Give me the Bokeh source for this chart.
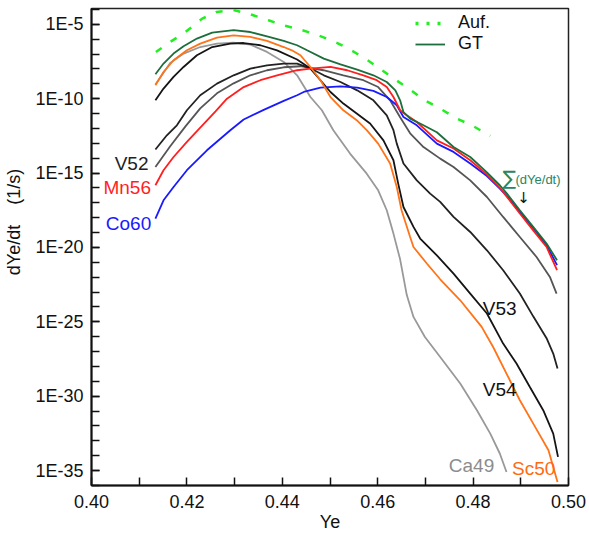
import numpy as np
from bokeh.plotting import figure
from bokeh.models import (Range1d, FixedTicker, CustomJSTickFormatter, Label,
                          Legend, LegendItem)
from bokeh.embed import file_html
from bokeh.resources import INLINE

FONT = "Liberation Sans"

# ---- data (Ye, log10 of dYe/dt) ----
auf_ye = [0.4135, 0.4165, 0.4197, 0.4232, 0.4263, 0.4297, 0.4333, 0.4371, 0.4402, 0.4438, 0.4475,
          0.4511, 0.4542, 0.4577, 0.4609, 0.4637, 0.4668, 0.4696, 0.4731, 0.4766, 0.4797, 0.4836]
auf_lg = [-6.86, -6.19, -5.52, -4.62, -4.17, -4.03, -4.33, -4.73, -5.07, -5.36, -5.74,
          -6.19, -6.70, -7.37, -8.09, -8.72, -9.39, -10.06, -10.67, -11.34, -11.79, -12.50]

gt_ye = [0.4134, 0.4151, 0.4172, 0.4193, 0.4221, 0.4253, 0.4298, 0.4333, 0.4368, 0.4403, 0.4431,
         0.4452, 0.4487, 0.4522, 0.4557, 0.4591, 0.4619, 0.4637, 0.4647, 0.4654, 0.4668, 0.4696,
         0.4724, 0.4759, 0.4794, 0.4829, 0.4856, 0.4871, 0.4898, 0.4926, 0.4954, 0.4976]
gt_lg = [-8.36, -7.64, -6.97, -6.48, -5.96, -5.56, -5.40, -5.52, -5.81, -6.12, -6.41,
         -6.75, -7.31, -7.69, -8.05, -8.43, -8.88, -9.44, -10.11, -10.90, -11.34, -11.79,
         -12.26, -13.25, -13.92, -14.95, -15.82, -16.38, -17.50, -18.62, -19.74, -20.86]

sc50_ye = [0.4134, 0.4151, 0.4172, 0.4200, 0.4228, 0.4263, 0.4298, 0.4333, 0.4368, 0.4403, 0.4420,
           0.4438, 0.4459, 0.4480, 0.4501, 0.4528, 0.4556, 0.4577, 0.4601, 0.4626, 0.4640, 0.4650,
           0.4668, 0.4675, 0.4703, 0.4731, 0.4773, 0.4818, 0.4842, 0.4870, 0.4898, 0.4930, 0.4958,
           0.4968, 0.4977]
sc50_lg = [-9.10, -8.21, -7.42, -6.75, -6.30, -5.90, -5.74, -5.85, -6.12, -6.53, -6.75,
           -7.08, -7.87, -8.76, -9.89, -10.78, -11.45, -12.12, -13.02, -14.36, -15.94, -17.50,
           -19.30, -19.97, -21.08, -22.14, -23.55, -25.34, -26.69, -28.48, -30.27, -32.06, -33.63,
           -34.75, -35.76]

ca49_ye = [0.4134, 0.4165, 0.4193, 0.4228, 0.4263, 0.4298, 0.4333, 0.4368, 0.4403, 0.4431, 0.4459,
           0.4483, 0.4507, 0.4542, 0.4577, 0.4601, 0.4619, 0.4633, 0.4647, 0.4661, 0.4675, 0.4699,
           0.4731, 0.4773, 0.4808, 0.4836, 0.4856, 0.4870]
ca49_lg = [-9.05, -7.60, -6.97, -6.53, -6.30, -6.23, -6.37, -6.86, -7.53, -8.43, -9.89,
           -10.78, -12.12, -13.69, -15.04, -16.16, -17.50, -19.07, -20.80, -23.20, -24.67, -26.02,
           -27.36, -29.15, -30.94, -32.51, -33.85, -35.09]

v54_ye = [0.4134, 0.4151, 0.4172, 0.4193, 0.4221, 0.4253, 0.4291, 0.4319, 0.4354, 0.4389, 0.4431,
          0.4459, 0.4480, 0.4501, 0.4528, 0.4556, 0.4584, 0.4612, 0.4633, 0.4643, 0.4654, 0.4675,
          0.4689, 0.4724, 0.4759, 0.4794, 0.4829, 0.4863, 0.4891, 0.4919, 0.4947, 0.4968, 0.4978]
v54_lg = [-10.11, -9.32, -8.54, -7.87, -7.08, -6.53, -6.30, -6.26, -6.41, -6.75, -7.37,
          -7.98, -8.76, -9.55, -10.33, -11.00, -11.67, -12.80, -14.14, -15.71, -17.28, -18.62,
          -19.40, -20.53, -21.76, -23.10, -24.44, -26.46, -27.80, -29.38, -30.94, -32.51, -34.08]

v53_ye = [0.4134, 0.4158, 0.4179, 0.4200, 0.4228, 0.4263, 0.4298, 0.4333, 0.4368, 0.4403, 0.4431,
          0.4459, 0.4487, 0.4522, 0.4557, 0.4591, 0.4619, 0.4633, 0.4640, 0.4654, 0.4682, 0.4710,
          0.4731, 0.4759, 0.4794, 0.4829, 0.4863, 0.4898, 0.4926, 0.4954, 0.4968, 0.4977]
v53_lg = [-13.42, -12.46, -11.79, -10.78, -9.77, -8.99, -8.43, -7.98, -7.76, -7.64, -7.64,
          -7.96, -8.43, -8.88, -9.44, -10.11, -11.12, -12.12, -13.02, -14.36, -15.49, -16.38,
          -16.94, -17.95, -18.96, -20.19, -21.53, -23.10, -24.63, -26.10, -27.13, -28.14]

v52_ye = [0.4134, 0.4165, 0.4197, 0.4228, 0.4263, 0.4298, 0.4333, 0.4368, 0.4403, 0.4438, 0.4486,
          0.4528, 0.4570, 0.4601, 0.4626, 0.4647, 0.4668, 0.4696, 0.4731, 0.4759, 0.4794, 0.4829,
          0.4863, 0.4898, 0.4933, 0.4961, 0.4975]
v52_lg = [-14.59, -13.20, -11.86, -10.65, -9.64, -8.97, -8.43, -8.09, -7.89, -7.82, -8.09,
          -8.43, -8.76, -9.22, -10.11, -11.25, -12.33, -13.25, -14.03, -14.59, -15.49, -16.61,
          -17.95, -19.30, -20.64, -21.98, -23.10]

mn56_ye = [0.4134, 0.4151, 0.4172, 0.4200, 0.4228, 0.4260, 0.4284, 0.4319, 0.4354, 0.4389, 0.4431,
           0.4459, 0.4501, 0.4536, 0.4570, 0.4598, 0.4619, 0.4633, 0.4647, 0.4661, 0.4682, 0.4724,
           0.4759, 0.4794, 0.4829, 0.4856, 0.4871, 0.4898, 0.4926, 0.4954, 0.4976]
mn56_lg = [-15.82, -14.81, -13.92, -12.91, -11.95, -10.85, -10.00, -9.22, -8.76, -8.43, -8.09,
           -7.98, -7.87, -8.09, -8.43, -8.76, -9.22, -9.89, -10.78, -11.12, -11.57, -12.80,
           -13.35, -14.14, -15.10, -15.99, -16.61, -17.72, -18.85, -19.97, -21.53]

co60_ye = [0.4134, 0.4151, 0.4172, 0.4200, 0.4242, 0.4291, 0.4319, 0.4361, 0.4403, 0.4431, 0.4445,
           0.4480, 0.4522, 0.4557, 0.4591, 0.4619, 0.4640, 0.4654, 0.4682, 0.4724, 0.4759, 0.4794,
           0.4829, 0.4856, 0.4871, 0.4898, 0.4926, 0.4954, 0.4976]
co60_lg = [-18.06, -16.83, -15.94, -14.81, -13.47, -12.12, -11.40, -10.75, -10.15, -9.77, -9.55,
           -9.26, -9.17, -9.26, -9.48, -9.89, -10.44, -11.23, -11.79, -13.02, -13.58, -14.36,
           -15.20, -16.04, -16.55, -17.63, -18.71, -19.85, -21.19]

x_ticks = [0.40, 0.42, 0.44, 0.46, 0.48, 0.50]
x_minor = [0.41, 0.43, 0.45, 0.47, 0.49]
y_ticks = [1e-35, 1e-30, 1e-25, 1e-20, 1e-15, 1e-10, 1e-5]
y_minor = [10.0 ** k for k in range(-36, -3)]
X_LO, X_HI = 0.40, 0.50
Y_LO, Y_HI = 1e-36, 10 ** -3.94

p = figure(width=586, height=537, output_backend="svg", toolbar_location=None,
           x_range=Range1d(X_LO, X_HI), y_range=Range1d(Y_LO, Y_HI), y_axis_type="log")
p.min_border = 0
p.min_border_left = 91
p.min_border_right = 18
p.min_border_top = 8
p.min_border_bottom = 52
p.grid.visible = False
p.background_fill_color = "white"
p.outline_line_color = "#222222"
p.outline_line_width = 1.5

for ax in (p.xaxis[0], p.yaxis[0]):
    ax.axis_line_color = "#111111"
    ax.axis_line_width = 2
    ax.major_tick_in = 8
    ax.major_tick_out = 0
    ax.minor_tick_in = 8
    ax.minor_tick_out = 0
    ax.major_tick_line_width = 1.5
    ax.minor_tick_line_width = 1.5
    ax.major_tick_line_color = "#111111"
    ax.minor_tick_line_color = "#111111"
    ax.major_label_text_font = FONT
    ax.major_label_text_font_size = "18px"
    ax.major_label_text_color = "#111111"
    ax.axis_label_text_font = FONT
    ax.axis_label_text_font_size = "18px"
    ax.axis_label_text_font_style = "normal"
    ax.axis_label_text_color = "#111111"

p.xaxis[0].ticker = FixedTicker(ticks=x_ticks, minor_ticks=x_minor)
p.xaxis[0].formatter = CustomJSTickFormatter(code="return tick.toFixed(2);")
p.xaxis[0].major_label_standoff = 9
p.xaxis[0].axis_label = "Ye"
p.xaxis[0].axis_label_standoff = 1
p.yaxis[0].ticker = FixedTicker(ticks=y_ticks, minor_ticks=y_minor)
p.yaxis[0].formatter = CustomJSTickFormatter(code='return "1E" + Math.round(Math.log10(tick));')
p.yaxis[0].major_label_standoff = 8
p.yaxis[0].axis_label = "\u00a0" * 10 + "dYe/dt\u00a0\u00a0\u00a0\u00a0(1/s)"
p.yaxis[0].axis_label_standoff = 8


def curve(xs, lg, color, width=1.8, dash="solid"):
    return p.line(xs, 10.0 ** np.array(lg), line_color=color, line_width=width, line_dash=dash)


curve(auf_ye, auf_lg, "#22ee22", width=2.5, dash="7 11")
curve(ca49_ye, ca49_lg, "#999999")
curve(v52_ye, v52_lg, "#555555")
curve(v53_ye, v53_lg, "#222222")
curve(v54_ye, v54_lg, "#151515")
curve(co60_ye, co60_lg, "#1a1aff")
curve(mn56_ye, mn56_lg, "#ff1f1f")
curve(sc50_ye, sc50_lg, "#ff7418")
gt_r = curve(gt_ye, gt_lg, "#1d6e3c")

# legend key for the dotted Auf. sample (a single NaN point, so nothing is drawn in the plot)
auf_key = p.line(x=[float("nan")], y=[float("nan")], line_color="#22ee22",
                 line_width=3.5, line_dash="3 8")
legend = Legend(items=[LegendItem(label="Auf.", renderers=[auf_key]),
                       LegendItem(label="GT", renderers=[gt_r])],
                location=(324, 431), orientation="vertical",
                label_text_font=FONT, label_text_font_size="18px", label_text_color="#111111",
                glyph_width=30, glyph_height=16, label_height=16, spacing=-3, padding=0,
                margin=0, label_standoff=13, border_line_color=None,
                background_fill_alpha=0)
p.add_layout(legend)


def lab(x, lg, text, color, size="19px", align="left", font=FONT):
    p.add_layout(Label(x=x, y=10.0 ** lg, text=text, text_color=color, text_font=font,
                       text_font_size=size, text_align=align, text_baseline="middle"))


lab(0.41194, -14.34, "V52", "#222222", align="right")
lab(0.41247, -15.94, "Mn56", "#ff1f1f", align="right")
lab(0.41252, -18.41, "Co60", "#1a1aff", align="right")
lab(0.48203, -24.12, "V53", "#111111")
lab(0.48203, -29.53, "V54", "#111111")
lab(0.47491, -34.64, "Ca49", "#8c8c8c")
lab(0.48818, -34.86, "Sc50", "#ff6a10")
lab(0.48616, -15.35, "\u2211", "#2a8560", size="20px", font="DejaVu Sans")
lab(0.48889, -15.42, "(dYe/dt)", "#2a8560", size="13px")
lab(0.49057, -16.70, "\u2193", "#111111", size="15px", align="center", font="DejaVu Sans")

open("out.html", "w").write(file_html(p, INLINE))
